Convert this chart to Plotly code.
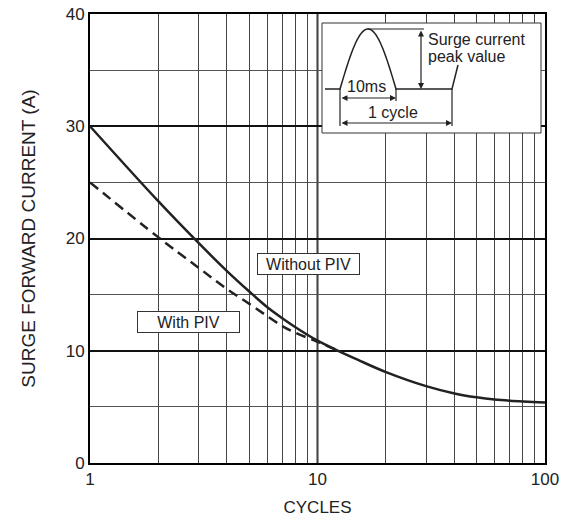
import numpy as np
import plotly.graph_objects as go

# ---- data ----
cycles_without = [1, 2, 3, 4, 5, 6, 7, 8, 10, 12, 15, 20, 30, 40, 50, 60, 70, 100]
current_without = [30, 23.3, 19.6, 17.1, 15.3, 13.9, 12.9, 12.1, 10.9, 10.1, 9.2, 8.1, 6.85, 6.2, 5.85, 5.65, 5.55, 5.4]
cycles_with = [1, 2, 3, 4, 5, 6, 7, 8, 10, 12]
current_with = [25, 20.1, 17.4, 15.5, 14.2, 13.1, 12.2, 11.6, 10.8, 10.1]

x_tickvals = [1, 2, 3, 4, 5, 6, 7, 8, 9, 10, 20, 30, 40, 50, 60, 70, 80, 90, 100]
x_ticktext = ["1", "", "", "", "", "", "", "", "", "10", "", "", "", "", "", "", "", "", "100"]
y_tickvals = [0, 10, 20, 30, 40]

FONT = "Liberation Sans, Arial, sans-serif"
INK = "#222222"

W, H = 561, 517
# plot area in pixels
L, R, T, B = 90, 545, 14, 463
def X(px):
    return (px - L) / (R - L)
def Y(py):
    return (B - py) / (B - T)

fig = go.Figure()
fig.add_trace(go.Scatter(x=cycles_with, y=current_with, mode="lines",
                         line=dict(color=INK, width=2.5, dash="10px,6px", shape="spline"),
                         showlegend=False, hoverinfo="skip"))
fig.add_trace(go.Scatter(x=cycles_without, y=current_without, mode="lines",
                         line=dict(color=INK, width=2.5, shape="spline"),
                         showlegend=False, hoverinfo="skip"))

fig.update_layout(
    width=W, height=H,
    margin=dict(l=L, r=W - R, t=T, b=H - B, autoexpand=False),
    paper_bgcolor="white", plot_bgcolor="white",
    font=dict(family=FONT, size=16, color=INK),
    xaxis=dict(type="log", range=[0, 2], tickvals=x_tickvals, ticktext=x_ticktext,
               showgrid=True, gridcolor="#444444", gridwidth=1,
               showline=True, linecolor="black", linewidth=2, mirror=True,
               ticks="", zeroline=False, automargin=False, ticklabeloverflow="allow",
               title=dict(text="CYCLES", font=dict(size=17), standoff=13),
               tickfont=dict(size=17)),
    yaxis=dict(range=[0, 40], tickvals=y_tickvals,
               showgrid=True, gridcolor="#111111", gridwidth=1.5,
               minor=dict(dtick=5, showgrid=True, gridcolor="#555555", gridwidth=1, ticks=""),
               showline=True, linecolor="black", linewidth=2, mirror=True,
               ticks="", zeroline=False, automargin=False, ticklabeloverflow="allow",
               title=dict(text="SURGE FORWARD CURRENT (A)", font=dict(size=19), standoff=25),
               tickfont=dict(size=17)),
)

# thicker decade line at 10
fig.add_shape(type="line", xref="x", yref="paper", x0=10, x1=10, y0=0, y1=1,
              line=dict(color="black", width=1.8), layer="below")

# curve labels
fig.add_annotation(x=np.log10(9.1), y=17.7, xref="x", yref="y", text="Without PIV",
                   showarrow=False, bgcolor="white", bordercolor="#333", borderwidth=1,
                   width=99, height=18, borderpad=1, font=dict(size=16))
fig.add_annotation(x=np.log10(2.7), y=12.6, xref="x", yref="y", text="With PIV",
                   showarrow=False, bgcolor="white", bordercolor="#333", borderwidth=1,
                   width=99, height=18, borderpad=1, font=dict(size=16))

# ---- inset schematic ----
fig.add_shape(type="rect", xref="paper", yref="paper",
              x0=X(322), x1=X(541), y0=Y(133), y1=Y(23),
              line=dict(color="#333", width=1), fillcolor="white", layer="above")

t = np.linspace(0, np.pi, 40)
pts = [(325, 89), (340, 89)] + [(340 + 56 * k / np.pi, 89 - 60 * np.sin(k)) for k in t] + [(452, 89), (458, 65)]
path = "M " + " L ".join(f"{X(a):.5f},{Y(b):.5f}" for a, b in pts)
fig.add_shape(type="path", xref="paper", yref="paper", path=path,
              line=dict(color=INK, width=1.5), layer="above")
# peak reference line
fig.add_shape(type="line", xref="paper", yref="paper", x0=X(368), x1=X(424), y0=Y(29), y1=Y(29),
              line=dict(color=INK, width=1.2), layer="above")
# extension lines
for xx, y_end in [(340, 126), (396, 101), (452, 126)]:
    fig.add_shape(type="line", xref="paper", yref="paper", x0=X(xx), x1=X(xx), y0=Y(89), y1=Y(y_end),
                  line=dict(color=INK, width=1.2), layer="above")

def dbl_arrow(x0, y0, x1, y1):
    fig.add_annotation(xref="paper", yref="paper", x=X(x1), y=Y(y1),
                       ax=x0 - x1, ay=y0 - y1, axref="pixel", ayref="pixel",
                       text="", showarrow=True, arrowhead=2, arrowside="end+start",
                       arrowsize=1, arrowwidth=1.2, arrowcolor=INK)

dbl_arrow(421, 29, 421, 89)
dbl_arrow(340, 98, 396, 98)
dbl_arrow(340, 123, 452, 123)

fig.add_annotation(xref="paper", yref="paper", x=X(426), y=Y(40), text="Surge current",
                   showarrow=False, xanchor="left", yanchor="middle", font=dict(size=16))
fig.add_annotation(xref="paper", yref="paper", x=X(426), y=Y(57), text="peak value",
                   showarrow=False, xanchor="left", yanchor="middle", font=dict(size=16))
fig.add_annotation(xref="paper", yref="paper", x=X(366), y=Y(86), text="10ms",
                   showarrow=False, xanchor="center", yanchor="middle", font=dict(size=16),
                   bgcolor="white", borderpad=0)
fig.add_annotation(xref="paper", yref="paper", x=X(393), y=Y(112), text="1 cycle",
                   showarrow=False, xanchor="center", yanchor="middle", font=dict(size=16))

fig.write_html("out.html", config={"displayModeBar": False},
               post_script="document.body.style.margin='0';document.body.style.overflow='hidden';")
